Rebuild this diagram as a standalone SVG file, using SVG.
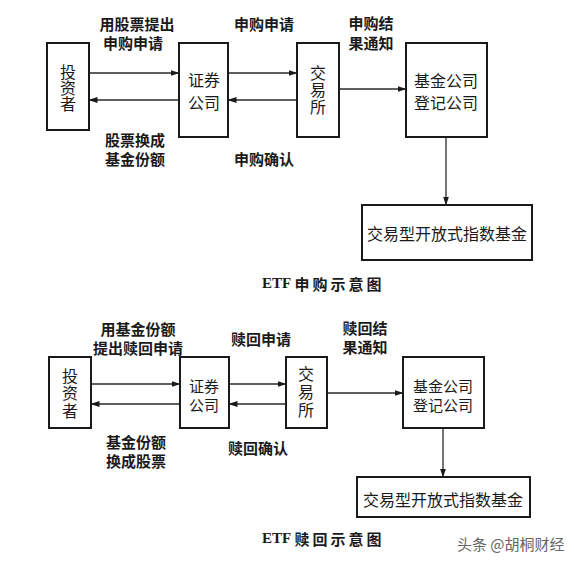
<svg xmlns="http://www.w3.org/2000/svg" width="574" height="564" viewBox="0 0 574 564">
<style>
.box{fill:#fff;stroke:#1a1a1a;stroke-width:2}
.ln{stroke:#2a2a2a;stroke-width:1.3;fill:none}
.t{font-family:"Noto Sans CJK SC",sans-serif;font-size:15px;font-weight:bold;fill:#1a1a1a;text-anchor:middle;dominant-baseline:central}
.n{font-family:"Noto Sans CJK SC",sans-serif;font-size:16px;fill:#1a1a1a;text-anchor:middle;dominant-baseline:central}
.n2{font-family:"Noto Sans CJK SC",sans-serif;font-size:15px;fill:#1a1a1a;text-anchor:middle;dominant-baseline:central}
.v{font-family:"Noto Sans CJK SC",sans-serif;font-size:16px;fill:#1a1a1a;text-anchor:middle;writing-mode:vertical-rl}
.cap{font-family:"Liberation Serif","Noto Sans CJK SC",serif;font-size:15px;font-weight:bold;fill:#1a1a1a;dominant-baseline:central}
.wm{font-family:"Noto Sans CJK SC",sans-serif;font-size:15px;fill:#666;dominant-baseline:central}
</style>
<defs>
<marker id="ah" markerWidth="9" markerHeight="6" refX="8.5" refY="3" orient="auto" markerUnits="userSpaceOnUse">
<path d="M0,0 L9,3 L0,6 Z" fill="#1a1a1a"/>
</marker>
</defs>
<rect width="574" height="564" fill="#fff"/>

<g id="connectors">
<line class="ln" x1="89" y1="73" x2="179" y2="73" marker-end="url(#ah)"/>
<line class="ln" x1="179" y1="100" x2="89" y2="100" marker-end="url(#ah)"/>
<line class="ln" x1="228" y1="73" x2="297" y2="73" marker-end="url(#ah)"/>
<line class="ln" x1="297" y1="100" x2="228" y2="100" marker-end="url(#ah)"/>
<line class="ln" x1="339" y1="89" x2="406" y2="89" marker-end="url(#ah)"/>
<line class="ln" x1="446" y1="137" x2="446" y2="205" marker-end="url(#ah)"/>

<line class="ln" x1="91" y1="384" x2="180" y2="384" marker-end="url(#ah)"/>
<line class="ln" x1="180" y1="404" x2="91" y2="404" marker-end="url(#ah)"/>
<line class="ln" x1="229" y1="384" x2="286" y2="384" marker-end="url(#ah)"/>
<line class="ln" x1="286" y1="404" x2="229" y2="404" marker-end="url(#ah)"/>
<line class="ln" x1="327" y1="393" x2="403" y2="393" marker-end="url(#ah)"/>
<line class="ln" x1="443" y1="428" x2="443" y2="477" marker-end="url(#ah)"/>
</g>

<g id="labels">
<text class="t" x="137" y="23">用股票提出<tspan x="133" y="42">申购申请</tspan></text>
<text class="t" x="264" y="23">申购申请</text>
<text class="t" x="135" y="139">股票换成<tspan x="135" y="158">基金份额</tspan></text>
<text class="t" x="264" y="158">申购确认</text>
<text class="t" x="371" y="22">申购结<tspan x="371" y="42">果通知</tspan></text>

<text class="t" x="138" y="328">用基金份额<tspan x="138" y="347">提出赎回申请</tspan></text>
<text class="t" x="261" y="338">赎回申请</text>
<text class="t" x="136" y="441">基金份额<tspan x="136" y="460">换成股票</tspan></text>
<text class="t" x="258" y="447">赎回确认</text>
<text class="t" x="365" y="327">赎回结<tspan x="365" y="346">果通知</tspan></text>
</g>

<g id="n1-investor">
<rect class="box" x="47" y="43" width="42" height="87"/>
<text class="v" x="68" y="88" letter-spacing="0">投资者</text>
</g>
<g id="n1-broker">
<rect class="box" x="179" y="43" width="49" height="94"/>
<text class="n" x="204" y="79">证券<tspan x="204" y="102">公司</tspan></text>
</g>
<g id="n1-exchange">
<rect class="box" x="297" y="43" width="42" height="94"/>
<text class="v" x="318" y="90" letter-spacing="1">交易所</text>
</g>
<g id="n1-registrar">
<rect class="box" x="406" y="43" width="81" height="94"/>
<text class="n" x="446" y="80">基金公司<tspan x="446" y="102">登记公司</tspan></text>
</g>
<g id="n1-etf">
<rect class="box" x="362" y="205" width="170" height="55"/>
<text class="n" x="447" y="233">交易型开放式指数基金</text>
</g>
<text class="cap" x="262" y="283">ETF <tspan font-family="Noto Sans CJK SC, sans-serif" letter-spacing="3">申购示意图</tspan></text>

<g id="n2-investor">
<rect class="box" x="49" y="357" width="42" height="71"/>
<text class="v" x="70" y="394" letter-spacing="1.5">投资者</text>
</g>
<g id="n2-broker">
<rect class="box" x="180" y="357" width="49" height="71"/>
<text class="n2" x="204" y="385">证券<tspan x="204" y="404">公司</tspan></text>
</g>
<g id="n2-exchange">
<rect class="box" x="286" y="357" width="41" height="71"/>
<text class="v" x="306" y="393" letter-spacing="2">交易所</text>
</g>
<g id="n2-registrar">
<rect class="box" x="403" y="357" width="81" height="71"/>
<text class="n2" x="443" y="385">基金公司<tspan x="443" y="404">登记公司</tspan></text>
</g>
<g id="n2-etf">
<rect class="box" x="357" y="477" width="173" height="40"/>
<text class="n" x="443" y="499">交易型开放式指数基金</text>
</g>
<text class="cap" x="262" y="538">ETF <tspan font-family="Noto Sans CJK SC, sans-serif" letter-spacing="3">赎回示意图</tspan></text>

<text class="wm" x="457" y="543">头条 @胡桐财经</text>
</svg>
